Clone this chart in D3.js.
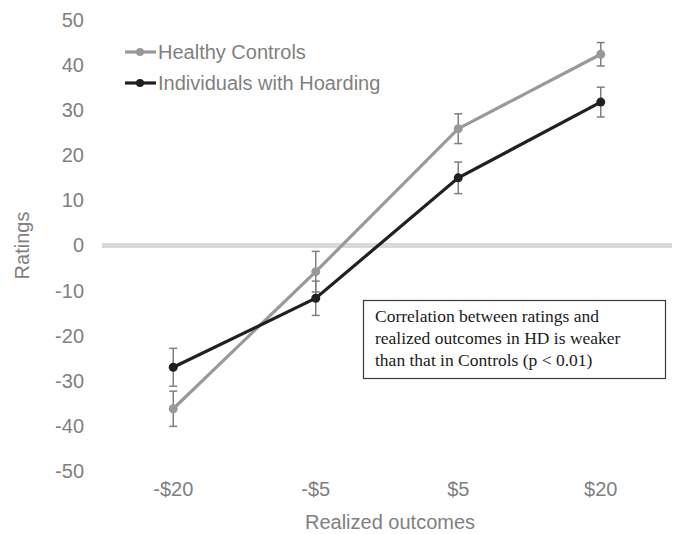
<!DOCTYPE html>
<html lang="en">
<head>
    <meta charset="UTF-8">
    <title>Ratings by realized outcome</title>
    <script src="https://cdn.jsdelivr.net/npm/d3@7"></script>
    <style>
        body { margin: 0; background: #fff; font-family: 'Liberation Sans', Arial, sans-serif; }
        .tick text { fill: #7f7f7f; font-size: 20px; font-family: 'Liberation Sans', Arial, sans-serif; }
        .axis-title { fill: #7f7f7f; font-size: 20px; }
        .legend-label { fill: #7f7f7f; font-size: 20px; }
        .note { font-family: 'Liberation Serif', 'Times New Roman', serif; font-size: 17.5px; fill: #1a1a1a; }
    </style>
</head>
<body>
<div id="chart"></div>
<script>
    const outcomes = ['-$20', '-$5', '$5', '$20'];
    const yTicks = [50, 40, 30, 20, 10, 0, -10, -20, -30, -40, -50];

    const controlRatings = [-36.2, -5.8, 25.9, 42.4];
    const controlErrors = [3.9, 4.5, 3.3, 2.6];

    const hoardingRatings = [-27.0, -11.7, 15.0, 31.8];
    const hoardingErrors = [4.2, 3.8, 3.5, 3.3];

    const seriesNames = ['Healthy Controls', 'Individuals with Hoarding'];
    const noteLines = [
        'Correlation between ratings and',
        'realized outcomes in HD is weaker',
        'than that in Controls (p < 0.01)'
    ];

    const width = 678, height = 534;
    const svg = d3.select('#chart').append('svg')
        .attr('width', width)
        .attr('height', height);

    const x = d3.scaleBand().domain(outcomes).range([102, 672]);
    const y = d3.scaleLinear().domain([-50, 50]).range([471, 20]);
    const cx = d => x(d) + x.bandwidth() / 2;

    // zero line
    svg.append('line')
        .attr('x1', 102).attr('x2', 672)
        .attr('y1', y(0)).attr('y2', y(0))
        .attr('stroke', '#d9d9d9')
        .attr('stroke-width', 5);

    // y axis labels (plain hyphen for negatives, like the source)
    const yAxis = svg.append('g')
        .attr('transform', 'translate(84,0)')
        .call(d3.axisLeft(y).tickValues(yTicks).tickFormat(d => String(d)).tickSize(0).tickPadding(0));
    yAxis.select('.domain').remove();

    // x axis labels
    const xAxis = svg.append('g')
        .attr('transform', `translate(0,${482})`)
        .call(d3.axisBottom(x).tickSize(0).tickPadding(0));
    xAxis.select('.domain').remove();

    svg.append('text')
        .attr('class', 'axis-title')
        .attr('x', 390).attr('y', 529)
        .attr('text-anchor', 'middle')
        .text('Realized outcomes');

    svg.append('text')
        .attr('class', 'axis-title')
        .attr('transform', `translate(29,${y(0)}) rotate(-90)`)
        .attr('text-anchor', 'middle')
        .text('Ratings');

    const series = [
        { name: seriesNames[0], values: controlRatings, errors: controlErrors, color: '#999999' },
        { name: seriesNames[1], values: hoardingRatings, errors: hoardingErrors, color: '#231f20' }
    ];

    const line = d3.line()
        .x((d, i) => cx(outcomes[i]))
        .y(d => y(d));

    series.forEach(s => {
        const g = svg.append('g');
        const pts = s.values.map((v, i) => ({ cat: outcomes[i], v, e: s.errors[i] }));

        // error bars
        const eb = g.selectAll('.err').data(pts).enter().append('g')
            .attr('stroke', '#7f7f7f')
            .attr('stroke-width', 1.5);
        eb.append('line')
            .attr('x1', d => cx(d.cat)).attr('x2', d => cx(d.cat))
            .attr('y1', d => y(d.v + d.e)).attr('y2', d => y(d.v - d.e));
        eb.append('line')
            .attr('x1', d => cx(d.cat) - 4).attr('x2', d => cx(d.cat) + 4)
            .attr('y1', d => y(d.v + d.e)).attr('y2', d => y(d.v + d.e));
        eb.append('line')
            .attr('x1', d => cx(d.cat) - 4).attr('x2', d => cx(d.cat) + 4)
            .attr('y1', d => y(d.v - d.e)).attr('y2', d => y(d.v - d.e));

        g.append('path')
            .datum(s.values)
            .attr('fill', 'none')
            .attr('stroke', s.color)
            .attr('stroke-width', 3.2)
            .attr('d', line);

        g.selectAll('circle').data(pts).enter().append('circle')
            .attr('cx', d => cx(d.cat))
            .attr('cy', d => y(d.v))
            .attr('r', 4.5)
            .attr('fill', s.color);
    });

    // legend
    const legend = svg.append('g');
    series.forEach((s, i) => {
        const ly = 52 + i * 31;
        legend.append('line')
            .attr('x1', 125).attr('x2', 156)
            .attr('y1', ly).attr('y2', ly)
            .attr('stroke', s.color).attr('stroke-width', 3.2);
        legend.append('circle')
            .attr('cx', 140).attr('cy', ly).attr('r', 4)
            .attr('fill', s.color);
        legend.append('text')
            .attr('class', 'legend-label')
            .attr('x', 158).attr('y', ly + 7)
            .text(s.name);
    });

    // annotation box
    svg.append('rect')
        .attr('x', 363.5).attr('y', 300.5)
        .attr('width', 302).attr('height', 78)
        .attr('fill', '#fff')
        .attr('stroke', '#3a3a3a')
        .attr('stroke-width', 1.2);

    svg.append('g').selectAll('text').data(noteLines).enter().append('text')
        .attr('class', 'note')
        .attr('x', 375)
        .attr('y', (d, i) => 322 + i * 22)
        .text(d => d);
</script>
</body>
</html>
